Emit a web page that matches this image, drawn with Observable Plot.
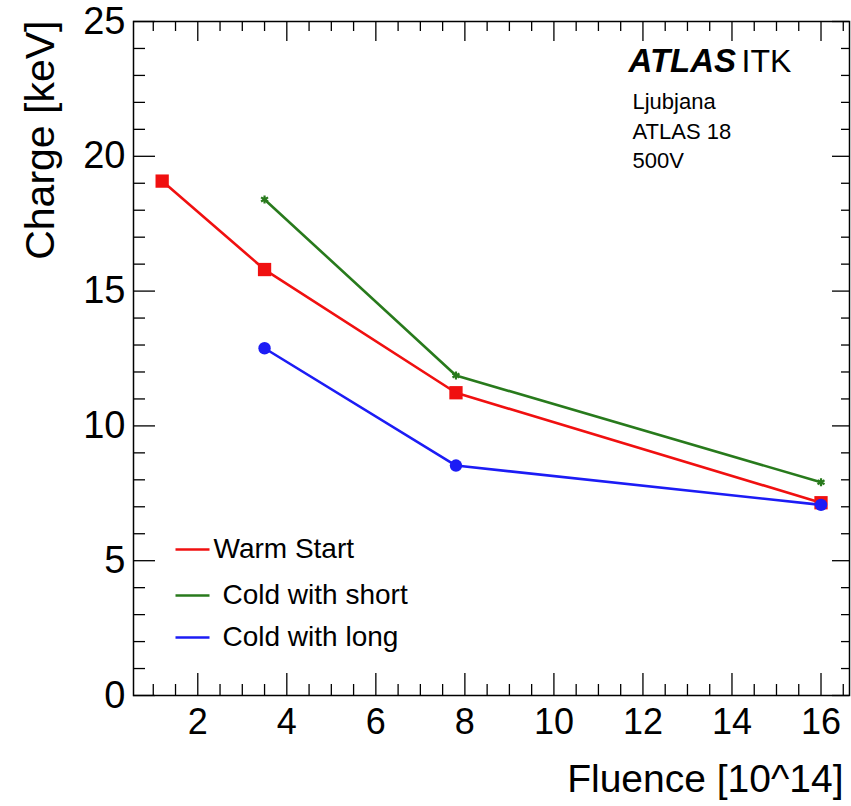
<!DOCTYPE html>
<html>
<head>
<meta charset="utf-8">
<script src="https://cdn.jsdelivr.net/npm/d3@7"></script>
<script src="https://cdn.jsdelivr.net/npm/@observablehq/plot@0.6"></script>
<style>
  body { margin: 0; background: #fff; }
  #chart svg { display: block; font-family: "Liberation Sans", Arial, Helvetica, sans-serif; }
</style>
</head>
<body>
<div id="chart"></div>
<script>
// Collected charge versus fluence, three start conditions
const seriesNames = ["Warm Start", "Cold with short", "Cold with long"];
const warmFluence = [1.2, 3.5, 7.8, 16];
const warmCharge = [19.08, 15.80, 11.23, 7.15];
const coldShortFluence = [3.5, 7.8, 16];
const coldShortCharge = [18.40, 11.87, 7.91];
const coldLongFluence = [3.5, 7.8, 16];
const coldLongCharge = [12.88, 8.53, 7.07];

const xTicks = [2, 4, 6, 8, 10, 12, 14, 16];
const yTicks = [0, 5, 10, 15, 20, 25];
const xMinor = d3.range(1, 16.6, 0.5).filter(v => !xTicks.includes(v));
const yMinor = d3.range(1, 25, 1).filter(v => !yTicks.includes(v));

const xLabel = "Fluence [10^14]";
const yLabel = "Charge [keV]";
const brand = "ATLAS";
const brandSuffix = "ITK";
const infoLines = ["Ljubjana", "ATLAS 18", "500V"];

// styling per series
const colors = ["#f01010", "#287a1c", "#1c1cf5"];
const symbols = ["square", "asterisk", "circle"];
const radii = [7.5, 3.8, 6.2];

const W = 851, H = 806;
const margin = {left: 133, right: 2, top: 21, bottom: 111};
const frameW = W - margin.left - margin.right;
const frameH = H - margin.top - margin.bottom;

const series = [
  warmFluence.map((x, i) => ({name: seriesNames[0], x, y: warmCharge[i]})),
  coldShortFluence.map((x, i) => ({name: seriesNames[1], x, y: coldShortCharge[i]})),
  coldLongFluence.map((x, i) => ({name: seriesNames[2], x, y: coldLongCharge[i]}))
];

// a short horizontal stroke used as legend key
const legendStroke = {draw(ctx) { ctx.moveTo(-17, 0); ctx.lineTo(17, 0); }};
const legendRows = [528, 574, 616];
const legendTextDx = [80, 89, 89];

const marks = [];

// inward ticks on all four sides
const tickStyle = {stroke: "black", strokeWidth: 1.3};
marks.push(
  Plot.ruleX(xTicks, {x: d => d, insetTop: frameH - 22, ...tickStyle}),
  Plot.ruleX(xMinor, {x: d => d, insetTop: frameH - 11, ...tickStyle}),
  Plot.ruleX(xTicks, {x: d => d, insetBottom: frameH - 20, ...tickStyle}),
  Plot.ruleX(xMinor, {x: d => d, insetBottom: frameH - 10, ...tickStyle}),
  Plot.ruleY(yTicks, {y: d => d, insetRight: frameW - 22, ...tickStyle}),
  Plot.ruleY(yMinor, {y: d => d, insetRight: frameW - 12, ...tickStyle}),
  Plot.ruleY(yTicks, {y: d => d, insetLeft: frameW - 17, ...tickStyle}),
  Plot.ruleY(yMinor, {y: d => d, insetLeft: frameW - 8, ...tickStyle})
);

// tick labels
marks.push(
  Plot.axisX(xTicks, {anchor: "bottom", tickSize: 0, tickPadding: 13, fontSize: 36, label: null, color: "black"}),
  Plot.axisY(yTicks, {anchor: "left", tickSize: 0, tickPadding: 8, fontSize: 38, label: null, color: "black"})
);

// data lines and markers
series.forEach((rows, i) => {
  marks.push(
    Plot.line(rows, {x: "x", y: "y", stroke: colors[i], strokeWidth: 2.6}),
    Plot.dot(rows, {
      x: "x", y: "y", symbol: symbols[i], r: radii[i],
      fill: symbols[i] === "asterisk" ? "none" : colors[i],
      stroke: colors[i], strokeWidth: symbols[i] === "asterisk" ? 2.2 : 0
    })
  );
});

// legend
seriesNames.forEach((name, i) => {
  marks.push(
    Plot.dot([name], {frameAnchor: "top-left", dx: 59, dy: legendRows[i], symbol: legendStroke,
      stroke: colors[i], strokeWidth: 2.6, fill: "none"}),
    Plot.text([name], {frameAnchor: "top-left", dx: legendTextDx[i], dy: legendRows[i],
      textAnchor: "start", lineAnchor: "middle", fontSize: 28, fill: "black"})
  );
});

// experiment labels
marks.push(
  Plot.text([brand], {frameAnchor: "top-left", dx: 495, dy: 40, textAnchor: "start", lineAnchor: "middle",
    fontSize: 33, fontWeight: "bold", fontStyle: "italic", fill: "black"}),
  Plot.text([brandSuffix], {frameAnchor: "top-left", dx: 608, dy: 40, textAnchor: "start", lineAnchor: "middle",
    fontSize: 32, fill: "black"}),
  Plot.text([infoLines.join("\n")], {frameAnchor: "top-left", dx: 499, dy: 67, textAnchor: "start", lineAnchor: "top",
    fontSize: 22, lineHeight: 1.33, fill: "black"})
);

// axis titles
marks.push(
  Plot.text([xLabel], {frameAnchor: "bottom-right", dx: -6, dy: 84, textAnchor: "end", lineAnchor: "middle",
    fontSize: 39, fill: "black"}),
  Plot.text([yLabel], {frameAnchor: "top-left", dx: -93, dy: -1, rotate: -90, textAnchor: "end", lineAnchor: "middle",
    fontSize: 41, fill: "black"})
);

marks.push(Plot.frame({stroke: "black", strokeWidth: 1.5}));

const chart = Plot.plot({
  width: W,
  height: H,
  marginLeft: margin.left,
  marginRight: margin.right,
  marginTop: margin.top,
  marginBottom: margin.bottom,
  x: {domain: [0.556, 16.64]},
  y: {domain: [0, 25]},
  style: {background: "white", color: "black", fontFamily: "'Liberation Sans', Arial, Helvetica, sans-serif"},
  marks
});
document.getElementById("chart").appendChild(chart);
</script>
</body>
</html>
